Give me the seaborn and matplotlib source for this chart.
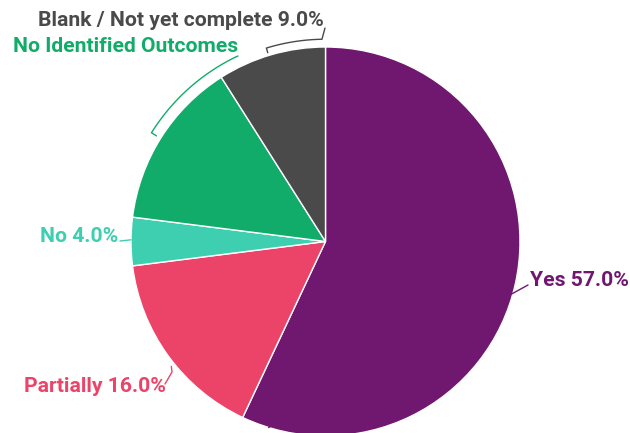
import numpy as np
import matplotlib
matplotlib.use("Agg")
import matplotlib.pyplot as plt
import seaborn as sns

# Outcome shares (percent), drawn clockwise from 12 o'clock
categories = ["Yes", "Partially", "No", "No Identified Outcomes", "Blank / Not yet complete"]
shares = [57.0, 16.0, 4.0, 14.0, 9.0]
show_pct = [True, True, True, False, True]
colors = ["#701870", "#eb4468", "#3ecfb0", "#12ac6a", "#4a4a4a"]
label_colors = ["#701870", "#eb4468", "#3ecfb0", "#12ac6a", "#4a4a4a"]

sns.set_theme(style="white")
plt.rcParams["font.family"] = ["Roboto", "DejaVu Sans"]

W, H = 630, 433
CX, CY, R = 325.5, 241.5, 194.5  # pie centre and radius in pixels

fig = plt.figure(figsize=(W / 100, H / 100), dpi=100)
ax = fig.add_axes([0, 0, 1, 1])
ax.axis("off")

wedges, _ = ax.pie(shares, colors=colors, startangle=90, counterclock=False,
                   radius=1.0, center=(0, 0), frame=False,
                   wedgeprops=dict(edgecolor="white", linewidth=1.0))
ax.set_aspect("auto")
ax.set_xlim((0 - CX) / R, (W - CX) / R)
ax.set_ylim((CY - H) / R, CY / R)


def px(x, y):
    return (x - CX) / R, (CY - y) / R


def polar(ang_deg, r):
    a = np.deg2rad(ang_deg)
    return r * np.cos(a), r * np.sin(a)


# label anchor (pixel) and alignment for each slice
label_pos = [(530, 281, "left"), (166, 387, "right"), (118, 236, "right"),
             (238, 46, "right"), (324, 20, "right")]

for i, (cat, val) in enumerate(zip(categories, shares)):
    txt = f"{cat} {val:.1f}%" if show_pct[i] else cat
    lx, ly, ha = label_pos[i]
    x, y = px(lx, ly)
    ax.text(x, y, txt, ha=ha, va="center", fontsize=15.2, fontweight="bold",
            color=label_colors[i])

lw = 1.0
# Yes: short straight connector
x0, y0 = polar(-107.0, 1.0)
x1, y1 = px(528, 285)
ax.plot([x0, x1], [y0, y1], color=colors[0], lw=lw)

# Partially: crooked connector
x0, y0 = polar(-141.0, 1.02)
xm, ym = px(172, 372)
x1, y1 = px(165, 384)
ax.plot([x0, xm, x1], [y0, ym, y1], color=colors[1], lw=lw)

# No: short straight connector
x0, y0 = polar(179.5, 1.0)
x1, y1 = px(120, 241)
ax.plot([x0, x1], [y0, y1], color=colors[2], lw=lw)

# No Identified Outcomes: bracket along the arc
angs = np.linspace(148.0, 116.0, 40)
ax_, ay_ = polar(angs, 1.055)
s0 = polar(148.0, 1.025)
e1 = px(238, 56)
ax.plot(np.r_[s0[0], ax_, e1[0]], np.r_[s0[1], ay_, e1[1]], color=colors[3], lw=lw)

# Blank: bracket along the arc, up to the label
angs = np.linspace(107.0, 91.0, 30)
bx, by = polar(angs, 1.04)
s0 = polar(107.0, 1.015)
e1 = px(325, 28)
ax.plot(np.r_[s0[0], bx, e1[0]], np.r_[s0[1], by, e1[1]], color=colors[4], lw=lw)

fig.savefig("out.png", dpi=100, facecolor="white")
